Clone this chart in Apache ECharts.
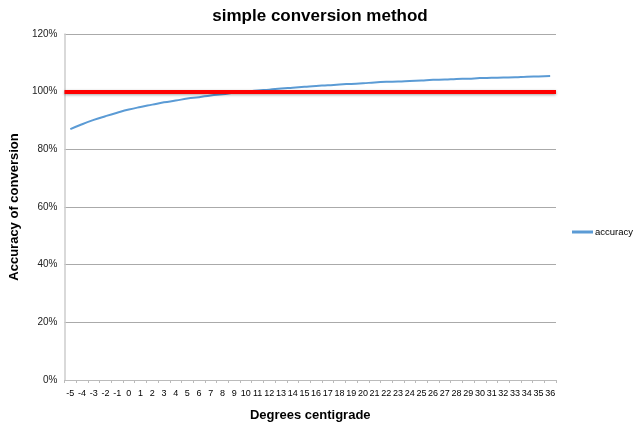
<!DOCTYPE html>
<html>
<head>
<meta charset="utf-8">
<script src="https://cdn.jsdelivr.net/npm/echarts@6/dist/echarts.min.js"></script>
<style>
html, body { margin: 0; padding: 0; background: #fff; }
#chart { width: 640px; height: 427px; }
</style>
</head>
<body>
<div id="chart"></div>
<script>
// degrees centigrade on the x axis
let degrees = [-5, -4, -3, -2, -1, 0, 1, 2, 3, 4, 5, 6, 7, 8, 9, 10, 11, 12, 13, 14, 15, 16, 17, 18, 19, 20,
	21, 22, 23, 24, 25, 26, 27, 28, 29, 30, 31, 32, 33, 34, 35, 36];
// accuracy (1 = 100%)
let accuracy = [0.870, 0.887, 0.902, 0.915, 0.927, 0.938, 0.947, 0.955, 0.963, 0.969, 0.976, 0.981, 0.987, 0.991,
	0.996, 1.000, 1.004, 1.007, 1.011, 1.014, 1.017, 1.020, 1.022, 1.025, 1.027, 1.029, 1.032, 1.034, 1.035,
	1.037, 1.039, 1.041, 1.042, 1.044, 1.045, 1.047, 1.048, 1.049, 1.050, 1.052, 1.053, 1.054];
let targetLine = 1.0;

let chart = echarts.init(document.getElementById('chart'));
let font = 'Liberation Sans, Arial, sans-serif';
let option = {
	animation: false,
	title: {
		text: 'simple conversion method',
		left: 'center',
		top: 3,
		textStyle: { fontFamily: font, fontSize: 17, fontWeight: 'bold', color: '#000' }
	},
	legend: {
		left: 572,
		top: 227,
		width: 68,
		padding: 0,
		itemWidth: 21,
		itemHeight: 3,
		textStyle: { fontFamily: font, fontSize: 9.5, color: '#000', padding: [0, 0, 0, -3] },
		data: [{ name: 'accuracy', icon: 'rect', itemStyle: { color: '#5b9bd5' } }]
	},
	grid: { left: 62, right: 84, top: 34, bottom: 47 },
	xAxis: {
		type: 'category',
		data: degrees.map(String),
		name: 'Degrees centigrade',
		nameLocation: 'middle',
		nameGap: 29,
		nameTextStyle: { fontFamily: font, fontSize: 13, fontWeight: 'bold', color: '#000' },
		axisLine: { lineStyle: { color: '#bbb', width: 1 } },
		axisTick: { show: true, length: 3, lineStyle: { color: '#bbb' } },
		axisLabel: { interval: 0, fontFamily: font, fontSize: 9, color: '#000', margin: 9 }
	},
	yAxis: {
		type: 'value',
		min: 0,
		max: 1.2,
		interval: 0.2,
		name: 'Accuracy of conversion',
		nameLocation: 'middle',
		nameGap: 36,
		nameTextStyle: { fontFamily: font, fontSize: 13, fontWeight: 'bold', color: '#000' },
		axisLine: { show: true, lineStyle: { color: '#ccc', width: 1.5 } },
		axisTick: { show: false },
		splitLine: { lineStyle: { color: '#aaa', width: 1 } },
		axisLabel: {
			fontFamily: font, fontSize: 10, color: '#222', margin: 7,
			formatter: function (v) { return Math.round(v * 100) + '%'; }
		}
	},
	series: [
		{
			name: 'accuracy',
			type: 'line',
			data: accuracy,
			symbol: 'none',
			smooth: true,
			lineStyle: { color: '#5b9bd5', width: 2 },
			itemStyle: { color: '#5b9bd5' },
			markLine: {
				silent: true,
				symbol: 'none',
				label: { show: false },
				lineStyle: {
					color: '#ff0000', width: 4, type: 'solid',
					shadowColor: 'rgba(0,0,0,0.35)', shadowBlur: 3, shadowOffsetY: 1
				},
				data: [{ yAxis: targetLine }]
			}
		}
	]
};
chart.setOption(option);
</script>
</body>
</html>
